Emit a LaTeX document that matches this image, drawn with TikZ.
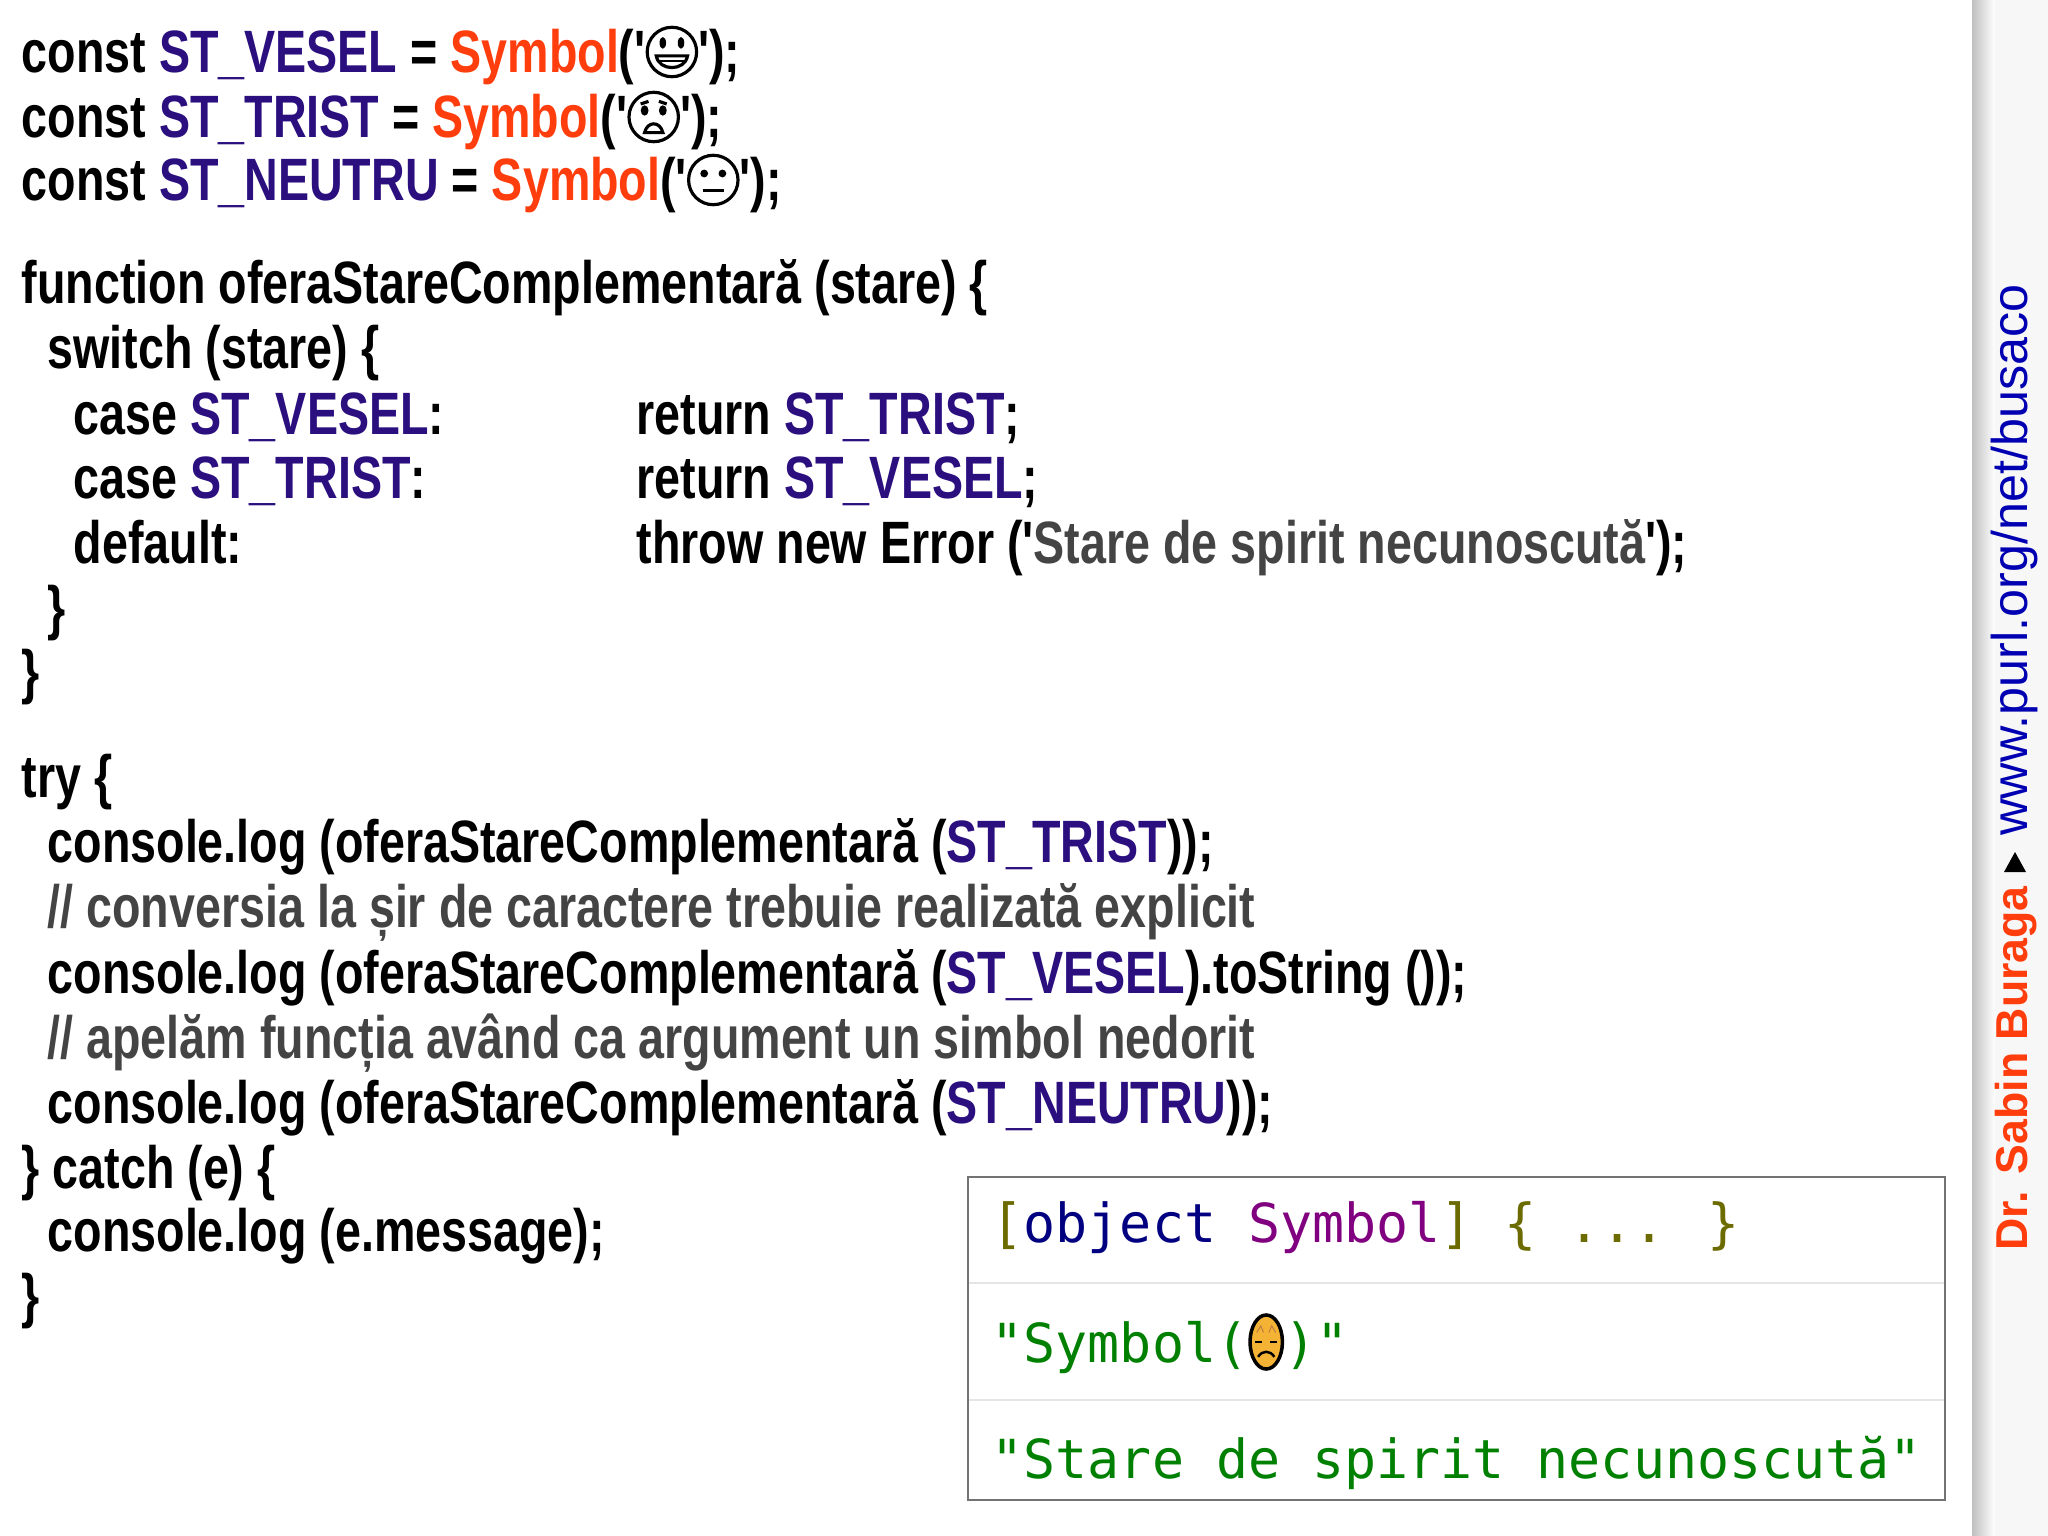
\documentclass[tikz,border=0pt]{standalone}
\usepackage{fontspec}
\newfontfamily\codefont{Liberation Sans}[FakeStretch=0.78]
\newfontfamily\side{Liberation Sans}
\newfontfamily\mono{DejaVu Sans Mono}[FakeStretch=0.99]
\definecolor{kw}{HTML}{2B0F7F}
\definecolor{sy}{HTML}{FF3D0D}
\definecolor{cm}{HTML}{444444}
\definecolor{olv}{HTML}{6B6B00}
\definecolor{nav}{HTML}{000080}
\definecolor{pur}{HTML}{800080}
\definecolor{grn}{HTML}{008000}
\definecolor{emo}{HTML}{F5B335}
\newcommand\kw[1]{\textcolor{kw}{#1}}
\newcommand\sy[1]{\textcolor{sy}{#1}}
\newcommand\cmt[1]{\textcolor{cm}{#1}}
\newcommand\q{'}
\newcommand\faceHappy{\tikz[x=1.3cm,y=1.3cm,baseline=-0.2cm,line width=0.9pt]{\draw (0,0) circle (0.19);
 \fill (-0.07,0.07) ellipse (0.025 and 0.045); \fill (0.07,0.07) ellipse (0.025 and 0.045);
 \draw (-0.12,-0.03) .. controls (-0.1,-0.15) and (0.1,-0.15) .. (0.12,-0.03) -- cycle;
 \draw[line width=0.5pt] (-0.11,-0.07) -- (0.11,-0.07);}}
\newcommand\faceSad{\tikz[x=1.3cm,y=1.3cm,baseline=-0.2cm,line width=0.9pt]{\draw (0,0) circle (0.19);
 \fill (-0.07,0.05) ellipse (0.03 and 0.04); \fill (0.07,0.05) ellipse (0.03 and 0.04);
 \draw (-0.1,0.1) -- (-0.04,0.12); \draw (0.1,0.1) -- (0.04,0.12);
 \draw (-0.07,-0.12) .. controls (-0.05,-0.03) and (0.05,-0.03) .. (0.07,-0.12) -- cycle;}}
\newcommand\faceNeutral{\tikz[x=1.3cm,y=1.3cm,baseline=-0.2cm,line width=0.9pt]{\draw (0,0) circle (0.19);
 \fill (-0.07,0.05) circle (0.03); \fill (0.07,0.05) circle (0.03);
 \draw (-0.08,-0.08) -- (0.08,-0.08);}}
\newcommand\faceTired{\tikz[x=1.35cm,y=1.35cm,baseline=-0.2cm,line width=1pt]{\draw[fill=emo] (0,0) ellipse (0.12 and 0.2);
 \draw[line width=0.7pt] (-0.08,0.0) -- (-0.03,0.0); \draw[line width=0.7pt] (0.08,0.0) -- (0.03,0.0);
 \draw[line width=0.7pt] (-0.06,-0.11) .. controls (-0.03,-0.06) and (0.03,-0.06) .. (0.06,-0.11);
 \draw[line width=0.3pt,brown] (-0.07,0.07) -- (-0.04,0.12) -- (-0.02,0.07); \draw[line width=0.3pt,brown] (0.07,0.07) -- (0.04,0.12) -- (0.02,0.07);}}
\begin{document}
\begin{tikzpicture}[x=0.01cm,y=-0.01cm,
  code/.style={anchor=base west,inner sep=0,font=\fontsize{17}{20}\codefont\bfseries},
  mono/.style={anchor=base west,inner sep=0,font=\fontsize{15.3}{18}\mono},
  side/.style={anchor=base west,inner sep=0,rotate=90}]
\useasboundingbox (0,0) rectangle (2048,1536);
\fill[white] (0,0) rectangle (2048,1536);
\shade[left color=black!25,right color=white] (1972,0) rectangle (1995,1536);
\fill[white!97!black] (1995,0) rectangle (2048,1536);
% code
\node[code] (l1) at (21,72) {const \kw{ST\_VESEL} = \sy{Symbol}(\q\faceHappy\q);};
\node[code] (l2) at (21,137) {const \kw{ST\_TRIST} = \sy{Symbol}(\q\faceSad\q);};
\node[code] (l3) at (21,200) {const \kw{ST\_NEUTRU} = \sy{Symbol}(\q\faceNeutral\q);};
\node[code] (l4) at (21,303) {function oferaStareComplementară (stare) \{};
\node[code] (l5) at (47,368) {switch (stare) \{};
\node[code] (l6) at (73,434) {case \kw{ST\_VESEL}:};
\node[code] (l6r) at (636,434) {return \kw{ST\_TRIST};};
\node[code] (l7) at (73,498) {case \kw{ST\_TRIST}:};
\node[code] (l7r) at (636,498) {return \kw{ST\_VESEL};};
\node[code] (l8) at (73,563) {default:};
\node[code] (l8r) at (636,563) {throw new Error (\q\cmt{Stare de spirit necunoscută}\q);};
\node[code] (l9) at (47,628) {\}};
\node[code] (l10) at (21,692) {\}};
\node[code] (l11) at (21,797) {try \{};
\node[code] (l12) at (47,862) {console.log (oferaStareComplementară (\kw{ST\_TRIST}));};
\node[code] (l13) at (47,927) {\cmt{// conversia la șir de caractere trebuie realizată explicit}};
\node[code] (l14) at (47,993) {console.log (oferaStareComplementară (\kw{ST\_VESEL}).toString ());};
\node[code] (l15) at (47,1058) {\cmt{// apelăm funcția având ca argument un simbol nedorit}};
\node[code] (l16) at (47,1123) {console.log (oferaStareComplementară (\kw{ST\_NEUTRU}));};
\node[code] (l17) at (21,1188) {\} catch (e) \{};
\node[code] (l18) at (47,1251) {console.log (e.message);};
\node[code] (l19) at (21,1316) {\}};
% output box
\draw[black!55,line width=0.8pt] (968,1177) rectangle (1945,1500);
\draw[black!10,line width=0.8pt] (969,1283) -- (1944,1283);
\draw[black!10,line width=0.8pt] (969,1400) -- (1944,1400);
\node[mono] (o1) at (991,1242) {\textcolor{olv}{[}\textcolor{nav}{object} \textcolor{pur}{Symbol}\textcolor{olv}{] \{ ... \}}};
\node[mono] (o2) at (991,1362) {\textcolor{grn}{"Symbol(}\faceTired\textcolor{grn}{)"}};
\node[mono] (o3) at (991,1478) {\textcolor{grn}{"Stare de spirit necunoscută"}};
% sidebar
\node[side,font=\fontsize{12.7}{16}\side\bfseries] (s1) at (2027,1251) {\textcolor{sy}{Dr. Sabin Buraga}};
\fill (2004,872) -- (2026,872) -- (2015,852) -- cycle;
\node[side,font=\fontsize{14.3}{17}\side] (s2) at (2027,836) {\textcolor{blue!70!black}{www.purl.org/net/busaco}};
\end{tikzpicture}
\end{document}
